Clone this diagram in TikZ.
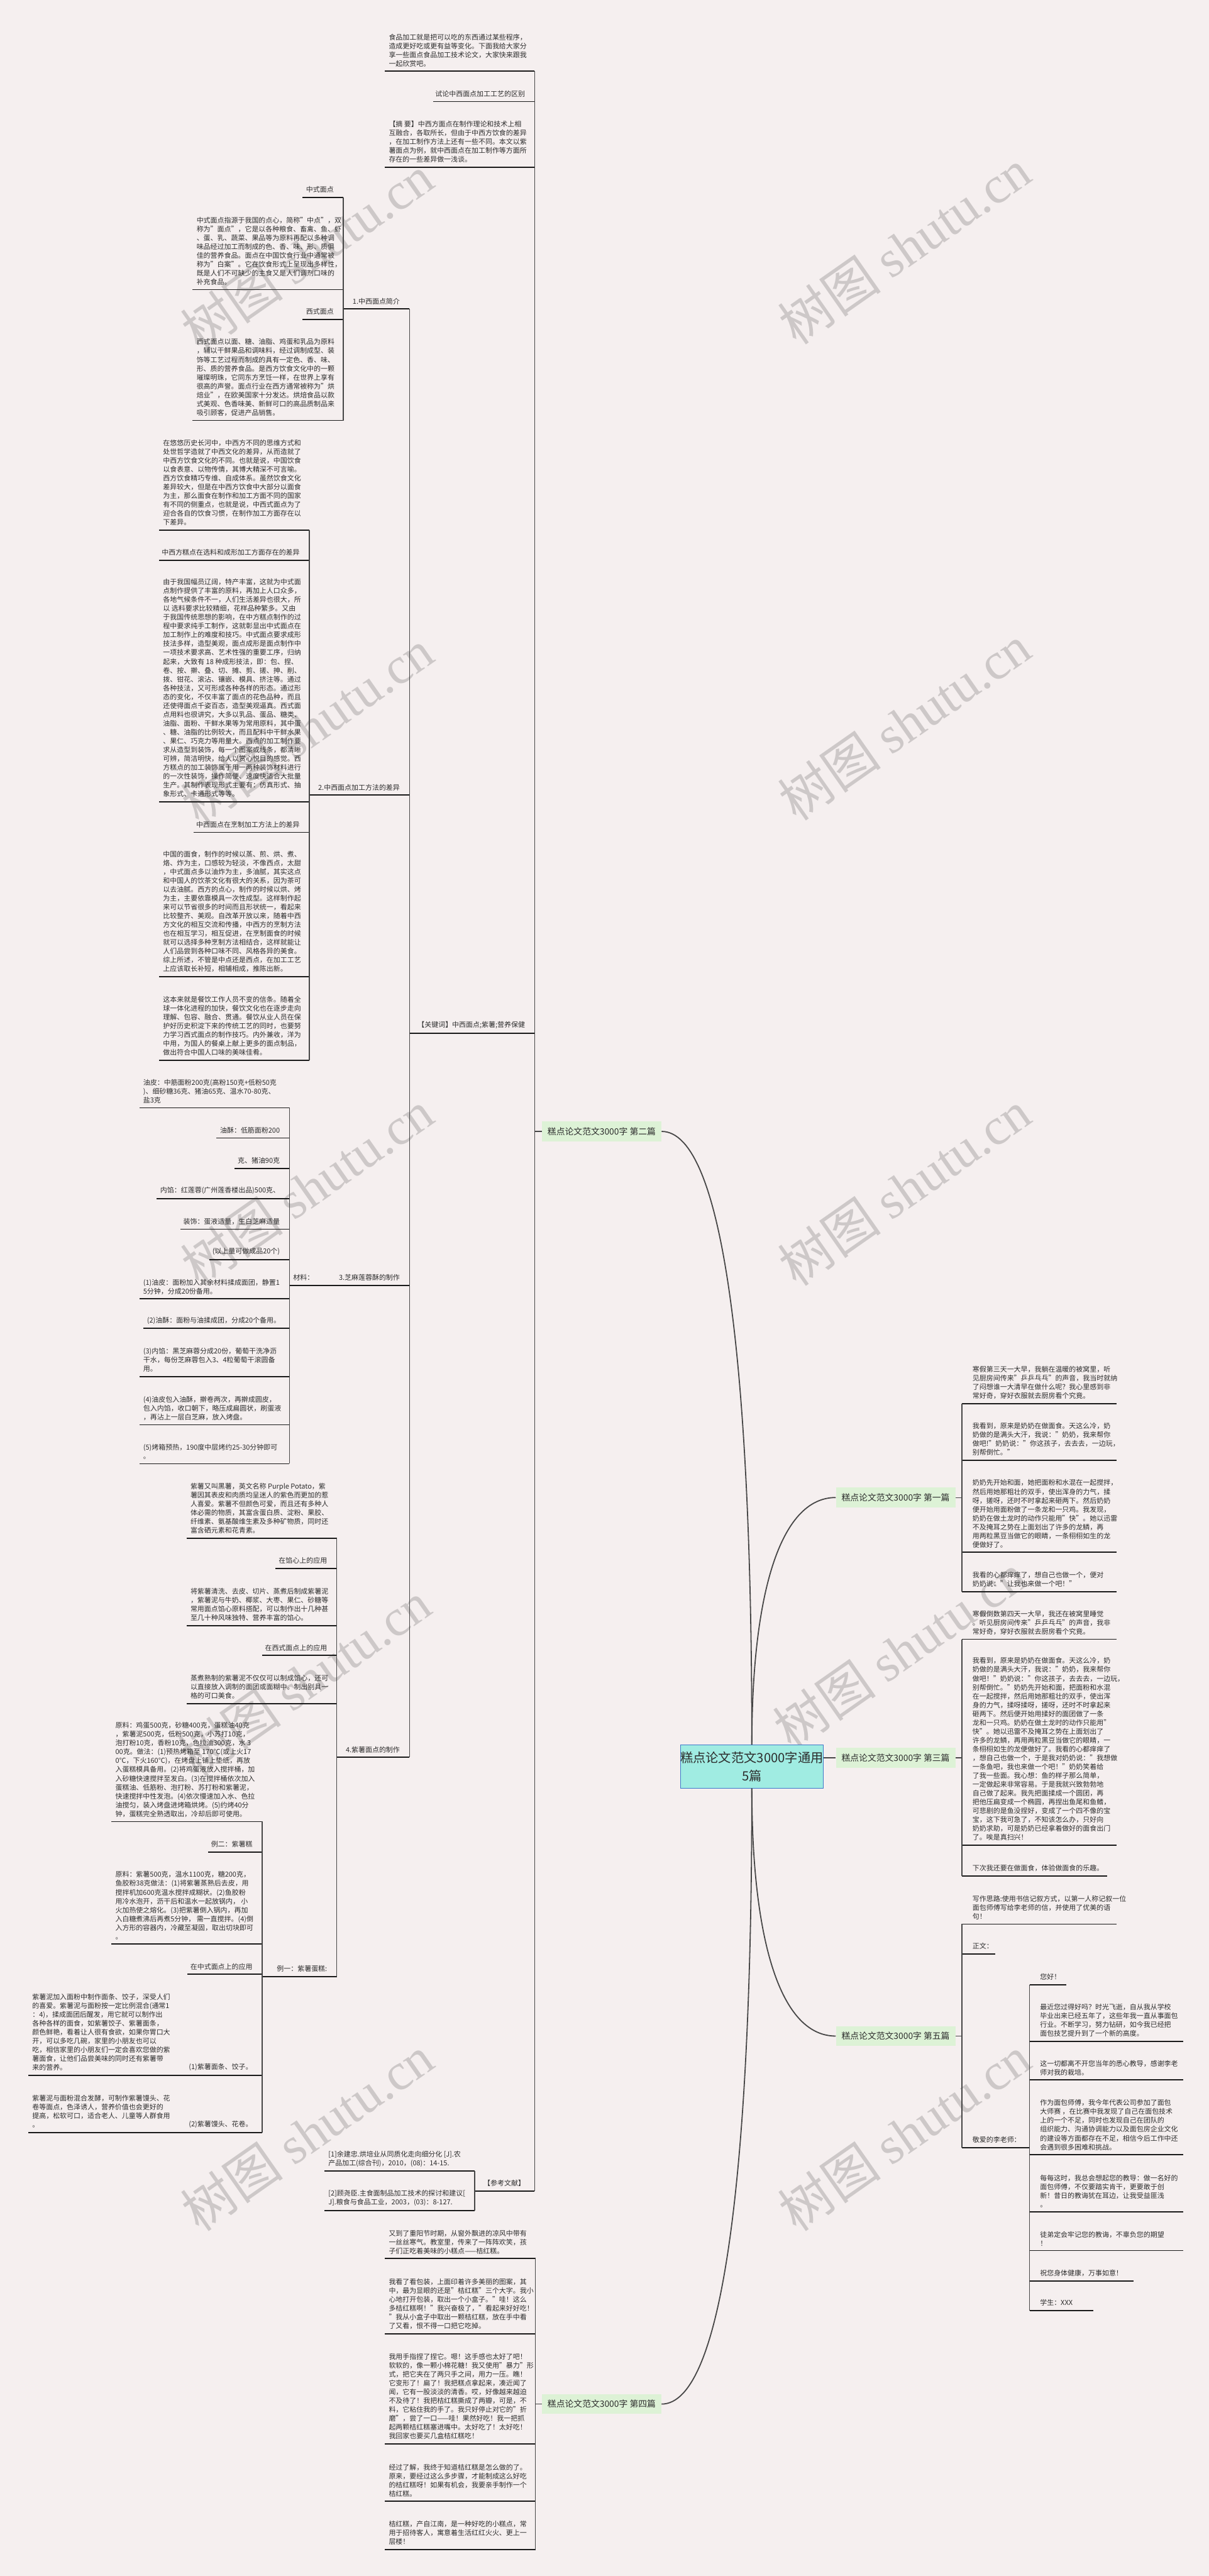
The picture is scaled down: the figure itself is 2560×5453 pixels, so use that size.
\documentclass[tikz,border=0pt]{standalone}
\usepackage{fontspec}
\setmainfont{Noto Sans CJK SC}
\newfontfamily\wmlat{Liberation Serif}
\definecolor{bgc}{RGB}{245,239,239}
\definecolor{rootfill}{RGB}{160,236,226}
\definecolor{rootdraw}{RGB}{60,120,200}
\definecolor{branchfill}{RGB}{221,242,214}
\definecolor{linec}{RGB}{70,70,70}
\definecolor{txtc}{RGB}{45,45,45}
\definecolor{wmc}{RGB}{205,200,200}
\tikzset{
  blk/.style={font=\fontsize{7.3}{9.35}\selectfont, text=txtc, inner sep=0pt, align=left},
  uline/.style={line width=1.25pt, black!90},
  brk/.style={line width=0.85pt, linec},
  curv/.style={line width=1.2pt, linec},
  rootbox/.style={draw=rootdraw, fill=rootfill, line width=0.7pt, minimum width=149pt, minimum height=45.5pt, inner sep=0pt, align=center, font=\fontsize{13.5}{19.5}\selectfont, text=txtc},
  branchbox/.style={fill=branchfill, minimum width=126.5pt, minimum height=21pt, inner sep=0pt, font=\fontsize{9.2}{11}\selectfont, text=txtc},
  wmark/.style={font=\fontsize{55}{60}\selectfont, text=wmc, rotate=35}
}
% left block: name, xl, xr, U, text
\newcommand\LB[5]{%
  \coordinate (#1-l) at (#2,#4);
  \coordinate (#1-r) at (#3,#4);
  \draw[uline] (#1-l) -- (#1-r);
  \node[blk,anchor=south west] (#1) at (#2+8,#4-9) {#5};}
% left label (right aligned)
\newcommand\LL[5]{%
  \coordinate (#1-l) at (#2,#4);
  \coordinate (#1-r) at (#3,#4);
  \draw[uline] (#1-l) -- (#1-r);
  \node[blk,anchor=south east] (#1) at (#3-20,#4-9) {#5};}
% right block
\newcommand\RB[5]{%
  \coordinate (#1-l) at (#2,#4);
  \coordinate (#1-r) at (#3,#4);
  \draw[uline] (#1-l) -- (#1-r);
  \node[blk,anchor=south west] (#1) at (#2+22,#4-9) {#5};}
\begin{document}
\begin{tikzpicture}[x=0.5pt,y=-0.5pt]
\fill[bgc] (0,0) rectangle (2560,5453);
\useasboundingbox (0,0) rectangle (2560,5453);
% watermarks
\foreach \x/\y [count=\i] in {650/536,650/1540,650/2515,645/3555,650/4516,1915/522,1915/1530,1915/2515,1905/3495,1915/4516}
  \node[wmark] (wm\i) at (\x,\y) {树图 {\wmlat shutu.cn}};

% root and branches
\node[rootbox] (root) at (1592,3739.5) {糕点论文范文3000字通用\\5篇};
\node[branchbox] (b2) at (1274,2395) {糕点论文范文3000字 第二篇};
\node[branchbox] (b1) at (1896.5,3170) {糕点论文范文3000字 第一篇};
\node[branchbox] (b3) at (1896.5,3721) {糕点论文范文3000字 第三篇};
\node[branchbox] (b5) at (1896.5,4310) {糕点论文范文3000字 第五篇};
\node[branchbox] (b4) at (1274,5089) {糕点论文范文3000字 第四篇};
\draw[curv] (root.north) .. controls (1592,2879) and (1530,2395) .. (b2.east);
\draw[curv] (root.south) .. controls (1592,4600) and (1530,5089) .. (b4.east);
\draw[curv] (root.north) .. controls (1592,3380) and (1650,3170) .. (b1.west);
\draw[curv] (root.south) .. controls (1592,4100) and (1650,4310) .. (b5.west);
\draw[curv] (b3.west) -- (b3.west -| root.east);

% ===== 第二篇 =====
\LB{A}{815}{1132}{151}{食品加工就是把可以吃的东西通过某些程序，\\造成更好吃或更有益等变化。下面我给大家分\\享一些面点食品加工技术论文，大家快来跟我\\一起欣赏吧。}
\LL{B}{917}{1132}{215}{试论中西面点加工工艺的区别}
\LB{C}{815}{1132}{354}{【摘 要】中西方面点在制作理论和技术上相\\互融合，各取所长，但由于中西方饮食的差异\\，在加工制作方法上还有一些不同。本文以紫\\薯面点为例，就中西面点在加工制作等方面所\\存在的一些差异做一浅谈。}
\LL{D}{867}{1132}{2187}{【关键词】中西面点;紫薯;营养保健}
\LL{E}{1005}{1132}{4638}{【参考文献】}
\draw[brk] (b2.west) -- (b2.west -| A-r);
\draw[brk] (A-r) -- (E-r);

\LL{D1}{727}{867}{654}{1.中西面点简介}
\LL{D2}{655}{867}{1683}{2.中西面点加工方法的差异}
\LL{D3}{685}{867}{2721}{3.芝麻莲蓉酥的制作}
\LL{D4}{713}{867}{3720}{4.紫薯面点的制作}
\draw[brk] (D1-r) -- (D4-r);

\LL{D1a}{641}{727}{417.5}{中式面点}
\LB{D1b}{408}{727}{613}{中式面点指源于我国的点心，简称"中点"，双\\称为"面点"，它是以各种粮食、畜禽、鱼、虾\\、蛋、乳、蔬菜、果品等为原料再配以多种调\\味品经过加工而制成的色、香、味、形、质俱\\佳的营养食品。面点在中国饮食行业中通常被\\称为"白案"。它在饮食形式上呈现出多样性，\\既是人们不可缺少的主食又是人们调剂口味的\\补充食品。}
\LL{D1c}{641}{727}{676}{西式面点}
\LB{D1d}{408}{727}{890}{西式面点以面、糖、油脂、鸡蛋和乳品为原料\\，辅以干鲜果品和调味料，经过调制成型、装\\饰等工艺过程而制成的具有一定色、香、味、\\形、质的营养食品。是西方饮食文化中的一颗\\璀璨明珠，它同东方烹饪一样，在世界上享有\\很高的声誉。面点行业在西方通常被称为"烘\\焙业"，在欧美国家十分发达。烘焙食品以款\\式美观、色香味美、新鲜可口的高品质制品来\\吸引顾客，促进产品销售。}
\draw[brk] (D1a-r) -- (D1d-r);

\LB{D2a}{337}{655}{1122}{在悠悠历史长河中，中西方不同的思维方式和\\处世哲学造就了中西文化的差异，从而造就了\\中西方饮食文化的不同。也就是说，中国饮食\\以食表意、以物传情，其博大精深不可言喻。\\西方饮食精巧专维、自成体系。虽然饮食文化\\差异较大，但是在中西方饮食中大部分以面食\\为主，那么面食在制作和加工方面不同的国家\\有不同的侧重点，也就是说，中西式面点为了\\迎合各自的饮食习惯，在制作加工方面存在以\\下差异。}
\LL{D2b}{337}{655}{1186}{中西方糕点在选料和成形加工方面存在的差异}
\LB{D2c}{337}{655}{1697}{由于我国幅员辽阔，特产丰富，这就为中式面\\点制作提供了丰富的原料，再加上人口众多，\\各地气候条件不一，人们生活差异也很大，所\\以 选料要求比较精细，花样品种繁多。又由\\于我国传统思想的影响，在中方糕点制作的过\\程中要求纯手工制作，这就彰显出中式面点在\\加工制作上的难度和技巧。中式面点要求成形\\技法多样，造型美观，面点成形是面点制作中\\一项技术要求高、艺术性强的重要工序，归纳\\起来，大致有 18 种成形技法，即：包、捏、\\卷、按、擀、叠、切、摊、剪、搓、抻、削、\\拨、钳花、滚沾、镶嵌、模具、挤注等。通过\\各种技法，又可形成各种各样的形态。通过形\\态的变化，不仅丰富了面点的花色品种，而且\\还使得面点千姿百态，造型美观逼真。西式面\\点用料也很讲究，大多以乳品、蛋品、糖类、\\油脂、面粉、干鲜水果等为常用原料，其中蛋\\、糖、油脂的比例较大，而且配料中干鲜水果\\、果仁、巧克力等用量大。西点的加工制作要\\求从造型到装饰，每一个图案或线条，都清晰\\可辨，简洁明快，给人以赏心悦目的感觉。西\\方糕点的加工装饰属于用一两种装饰材料进行\\的一次性装饰，操作简便、速度快适合大批量\\生产。其制作表现形式主要有：仿真形式、抽\\象形式、卡通形式等等。}
\LL{D2d}{409.5}{655}{1762}{中西面点在烹制加工方法上的差异}
\LB{D2e}{337}{655}{2067.5}{中国的面食，制作的时候以蒸、煎、烘、煮、\\烙、炸为主，口感较为轻淡，不像西点，太甜\\，中式面点多以油炸为主，多油腻，其实这点\\和中国人的饮茶文化有很大的关系，因为茶可\\以去油腻。西方的点心，制作的时候以烘、烤\\为主，主要依靠模具一次性成型。这样制作起\\来可以节省很多的时间而且形状统一，看起来\\比较整齐、美观。自改革开放以来，随着中西\\方文化的相互交流和传播，中西方的烹制方法\\也在相互学习，相互促进，在烹制面食的时候\\就可以选择多种烹制方法相结合，这样就能让\\人们品尝到各种口味不同、风格各异的美食。\\综上所述，不管是中点还是西点，在加工工艺\\上应该取长补短，相辅相成，推陈出新。}
\LB{D2f}{337}{655}{2244}{这本来就是餐饮工作人员不变的信条。随着全\\球一体化进程的加快，餐饮文化也在逐步走向\\理解、包容、融合、贯通。餐饮从业人员在保\\护好历史积淀下来的传统工艺的同时，也要努\\力学习西式面点的制作技巧。内外兼收，洋为\\中用，为国人的餐桌上献上更多的面点制品，\\做出符合中国人口味的美味佳肴。}
\draw[brk] (D2a-r) -- (D2f-r);

\LL{M}{613}{685}{2721}{材料：}
\LB{M1}{295}{613}{2345}{油皮：中筋面粉200克(高粉150克+低粉50克\\)、细砂糖36克、猪油65克、温水70-80克、\\盐3克}
\LL{M2}{458}{613}{2409}{油酥：低筋面粉200}
\LL{M3}{496}{613}{2473}{克、猪油90克}
\LL{M4}{332}{613}{2537.5}{内馅：红莲蓉(广州莲香楼出品)500克、}
\LL{M5}{382}{613}{2602}{装饰：蛋液适量，生白芝麻适量}
\LL{M6}{443}{613}{2666}{(以上量可做成品20个)}
\LB{M7}{295}{613}{2749.5}{(1)油皮：面粉加入其余材料揉成面团，静置1\\5分钟，分成20份备用。}
\LB{M8}{303}{613}{2812}{(2)油酥：面粉与油揉成团，分成20个备用。}
\LB{M9}{295}{613}{2914}{(3)内馅：黑芝麻蓉分成20份，葡萄干洗净沥\\干水，每份芝麻蓉包入3、4粒葡萄干滚圆备\\用。}
\LB{M10}{295}{613}{3016}{(4)油皮包入油酥，擀卷两次，再擀成圆皮，\\包入内馅，收口朝下，略压成扁圆状，刷蛋液\\，再沾上一层白芝麻，放入烤盘。}
\LB{M11}{295}{613}{3098.5}{(5)烤箱预热，190度中层烤约25-30分钟即可\\。}
\draw[brk] (M1-r) -- (M11-r);

\LB{P1}{395}{713}{3256}{紫薯又叫黑薯，英文名称 Purple Potato，紫\\薯因其表皮和肉质均呈迷人的紫色而更加的惹\\人喜爱。紫薯不但颜色可爱，而且还有多种人\\体必需的物质，其富含蛋白质、淀粉、果胶、\\纤维素、氨基酸维生素及多种矿物质，同时还\\富含硒元素和花青素。}
\LL{P2}{583}{713}{3320}{在馅心上的应用}
\LB{P3}{395}{713}{3441}{将紫薯清洗、去皮、切片、蒸煮后制成紫薯泥\\，紫薯泥与牛奶、椰浆、大枣、果仁、砂糖等\\常用面点馅心原料搭配，可以制作出十几种甚\\至几十种风味独特、营养丰富的馅心。}
\LL{P4}{555}{713}{3504}{在西式面点上的应用}
\LB{P5}{395}{713}{3606}{蒸煮熟制的紫薯泥不仅仅可以制成馅心，还可\\以直接放入调制的面团或面糊中。制出别具一\\格的可口美食。}
\LL{P6}{555}{713}{4184}{例一：紫薯蛋糕:}
\draw[brk] (P1-r) -- (P6-r);

\LB{Q1}{236}{555}{3856}{原料：鸡蛋500克，砂糖400克，蛋糕油40克\\，紫薯泥500克，低粉500克，小苏打10克，\\泡打粉10克，香粉10克，色拉油300克，水 3\\00克。做法：(1)预热烤箱至 170℃(或上火17\\0℃，下火160℃)，在烤盘上铺上垫纸，再放\\入蛋糕模具备用。(2)将鸡蛋液放入搅拌桶，加\\入砂糖快速搅拌至发白。(3)在搅拌桶依次加入\\蛋糕油、低筋粉、泡打粉、苏打粉和紫薯泥，\\快速搅拌中性发泡。(4)依次慢速加入水、色拉\\油搅匀，装入烤盘进烤箱烘烤。(5)约烤40分\\钟，蛋糕完全熟透取出，冷却后即可使用。}
\LL{Q2}{441}{555}{3920.5}{例二：紫薯糕}
\LB{Q3}{236}{555}{4115}{原料：紫薯500克，温水1100克，糖200克，\\鱼胶粉38克做法：(1)将紫薯蒸熟后去皮，用\\搅拌机加600克温水搅拌成糊状。(2)鱼胶粉\\用冷水泡开，沥干后和温水一起放锅内， 小\\火加热使之熔化。(3)把紫薯倒入锅内，再加\\入白糖煮沸后再煮5分钟， 需一直搅拌。(4)倒\\入方形的容器内，冷藏至凝固，取出切块即可\\。}
\LL{Q4}{397}{555}{4179}{在中式面点上的应用}
\LL{Q5}{380}{555}{4393}{(1)紫薯面条、饺子。}
\LB{Q5a}{60}{380}{4393}{紫薯泥加入面粉中制作面条、饺子，深受人们\\的喜爱。紫薯泥与面粉按一定比例混合(通常1\\：4)，揉成面团后醒发，用它就可以制作出\\各种各样的面食，如紫薯饺子、紫薯面条，\\颜色鲜艳，看着让人很有食欲，如果你胃口大\\开，可以多吃几碗，家里的小朋友也可以\\吃，相信家里的小朋友们一定会喜欢您做的紫\\薯面食，让他们品尝美味的同时还有紫薯带\\来的营养。}
\LL{Q6}{380}{555}{4514}{(2)紫薯馒头、花卷。}
\LB{Q6a}{60}{380}{4514}{紫薯泥与面粉混合发酵，可制作紫薯馒头、花\\卷等面点，色泽诱人，营养价值也会更好的\\提高，松软可口，适合老人、儿童等人群食用\\。}
\draw[brk] (Q1-r) -- (Q6-r);

\LB{E1}{687}{1005}{4596}{[1]余建忠.烘培业从同质化走向细分化 [J].农\\产品加工(综合刊)，2010，(08)：14-15.}
\LB{E2}{687}{1005}{4679}{[2]顾尧臣.主食面制品加工技术的探讨和建议[\\J].粮食与食品工业，2003，(03)：8-127.}
\draw[brk] (E1-r) -- (E2-r);

% ===== 第四篇 =====
\LB{F1}{815}{1134}{4781}{又到了重阳节时期，从窗外飘进的凉风中带有\\一丝丝寒气。教室里，传来了一阵阵欢笑，孩\\子们正吃着美味的小糕点——桔红糕。}
\LB{F2}{815}{1134}{4940}{我看了看包装，上面印着许多美丽的图案，其\\中，最为显眼的还是"桔红糕"三个大字。我小\\心地打开包装，取出一个小盒子。"哇！这么\\多桔红糕啊！"我兴奋极了，"看起来好好吃！\\"我从小盒子中取出一颗桔红糕，放在手中看\\了又看，恨不得一口把它吃掉。}
\LB{F3}{815}{1134}{5173}{我用手指捏了捏它。嗯！这手感也太好了吧！\\软软的，像一颗小棉花糖！我又使用"暴力"形\\式，把它夹在了两只手之间，用力一压。瞧！\\它变形了！扁了！我把糕点拿起来，凑近闻了\\闻，它有一股淡淡的清香。哎，好像越来越迫\\不及待了！我把桔红糕撕成了两瓣，可是，不\\料，它粘住我的手了。我只好停止对它的"折\\磨"，尝了一口——哇！果然好吃！我一把抓\\起两颗桔红糕塞进嘴中。太好吃了！太好吃！\\我回家也要买几盒桔红糕吃！}
\LB{F4}{815}{1134}{5295}{经过了解，我终于知道桔红糕是怎么做的了。\\原来，要经过这么多步骤，才能制成这么好吃\\的桔红糕呀！如果有机会，我要亲手制作一个\\桔红糕。}
\LB{F5}{815}{1134}{5397}{桔红糕，产自江南，是一种好吃的小糕点，常\\用于招待客人，寓意着生活红红火火、更上一\\层楼！}
\draw[brk] (b4.west) -- (b4.west -| F1-r);
\draw[brk] (F1-r) -- (F5-r);

% ===== 第一篇 =====
\RB{R1}{2037}{2365}{2971}{寒假第三天一大早，我躺在温暖的被窝里，听\\见厨房间传来"乒乒乓乓"的声音，我当时就纳\\了闷想谁一大清早在做什么呢？我心里感到非\\常好奇，穿好衣服就去厨房看个究竟。}
\RB{R2}{2037}{2365}{3091}{我看到，原来是奶奶在做面食。天这么冷，奶\\奶做的是满头大汗，我说："奶奶，我来帮你\\做吧!"奶奶说："你这孩子，去去去，一边玩，\\别帮倒忙。"}
\RB{R3}{2037}{2365}{3286}{奶奶先开始和面，她把面粉和水混在一起搅拌，\\然后用她那粗壮的双手，使出浑身的力气，揉\\呀，搓呀，还时不时拿起来砸两下。然后奶奶\\便开始用面粉做了一条龙和一只鸡。我发现，\\奶奶在做土龙时的动作只能用"快"。她以迅雷\\不及掩耳之势在上面划出了许多的龙鳞，再\\用两粒黑豆当做它的眼睛，一条栩栩如生的龙\\便做好了。}
\RB{R4}{2037}{2365}{3369}{我看的心都痒痒了，想自己也做一个，便对\\奶奶说："让我也来做一个吧！"}
\draw[brk] (b1.east) -- (b1.east -| R1-l);
\draw[brk] (R1-l) -- (R4-l);

% ===== 第三篇 =====
\RB{S1}{2037}{2365}{3470}{寒假倒数第四天一大早，我还在被窝里睡觉\\。听见厨房间传来"乒乒乓乓"的声音，我非\\常好奇，穿好衣服就去厨房看个究竟。}
\RB{S2}{2037}{2365}{3905.7}{我看到，原来是奶奶在做面食。天这么冷，奶\\奶做的是满头大汗，我说："奶奶，我来帮你\\做吧！"奶奶说："你这孩子，去去去，一边玩，\\别帮倒忙。"奶奶先开始和面，把面粉和水混\\在一起搅拌，然后用她那粗壮的双手，使出浑\\身的力气，揉呀揉呀，搓呀，还时不时拿起来\\砸两下。然后便开始用揉好的面团做了一条\\龙和一只鸡。奶奶在做土龙时的动作只能用"\\快"。她以迅雷不及掩耳之势在上面划出了\\许多的龙鳞，再用两粒黑豆当做它的眼睛，一\\条栩栩如生的龙便做好了。我看的心都痒痒了\\，想自己也做一个，于是我对奶奶说："我想做\\一条鱼吧，我也来做一个吧！"奶奶笑着给\\了我一些面。我心想：鱼的样子那么简单，\\一定做起来非常容易。于是我就兴致勃勃地\\自己做了起来。我先把面揉成一个圆团，再\\把他压扁变成一个椭圆，再捏出鱼尾和鱼鳍，\\可悲剧的是鱼没捏好，变成了一个四不像的宝\\宝，这下我可急了，不知该怎么办，只好向\\奶奶求助，可是奶奶已经拿着做好的面食出门\\了。唉是真扫兴！}
\RB{S3}{2037}{2345}{3971}{下次我还要在做面食，体验做面食的乐趣。}
\draw[brk] (b3.east) -- (b3.east -| S1-l);
\draw[brk] (S1-l) -- (S3-l);

% ===== 第五篇 =====
\RB{T1}{2037}{2365}{4073}{写作思路:使用书信记叙方式，以第一人称记叙一位\\面包师傅写给李老师的信，并使用了优美的语\\句！}
\RB{T2}{2037}{2108}{4136}{正文：}
\RB{T3}{2037}{2180}{4546}{敬爱的李老师：}
\draw[brk] (b5.east) -- (b5.east -| T1-l);
\draw[brk] (T1-l) -- (T3-l);
\RB{T3a}{2180}{2258}{4201}{您好！}
\RB{T3b}{2180}{2505}{4321}{最近您过得好吗？时光飞逝，自从我从学校\\毕业出来已经五年了，这些年我一直从事面包\\行业。不断学习，努力钻研，如今我已经把\\面包技艺提升到了一个新的高度。}
\RB{T3c}{2180}{2505}{4403}{这一切都离不开您当年的悉心教导，感谢李老\\师对我的栽培。}
\RB{T3d}{2180}{2505}{4561}{作为面包师傅，我今年代表公司参加了面包\\大师赛 ，在比赛中我发现了自己在面包技术\\上的一个不足，同时也发现自己在团队的\\组织能力、沟通协调能力以及面包房企业文化\\的建设等方面都存在不足，相信今后工作中还\\会遇到很多困难和挑战。}
\RB{T3e}{2180}{2505}{4682}{每每这时，我总会想起您的教导：做一名好的\\面包师傅，不仅要踏实肯干，更要敢于创\\新！昔日的教诲犹在耳边，让我受益匪浅\\。}
\RB{T3f}{2180}{2505}{4764}{徒弟定会牢记您的教诲，不辜负您的期望\\！}
\RB{T3g}{2180}{2400}{4828}{祝您身体健康，万事如意！}
\RB{T3h}{2180}{2315}{4891}{学生：XXX}
\draw[brk] (T3a-l) -- (T3h-l);
\end{tikzpicture}
\end{document}
